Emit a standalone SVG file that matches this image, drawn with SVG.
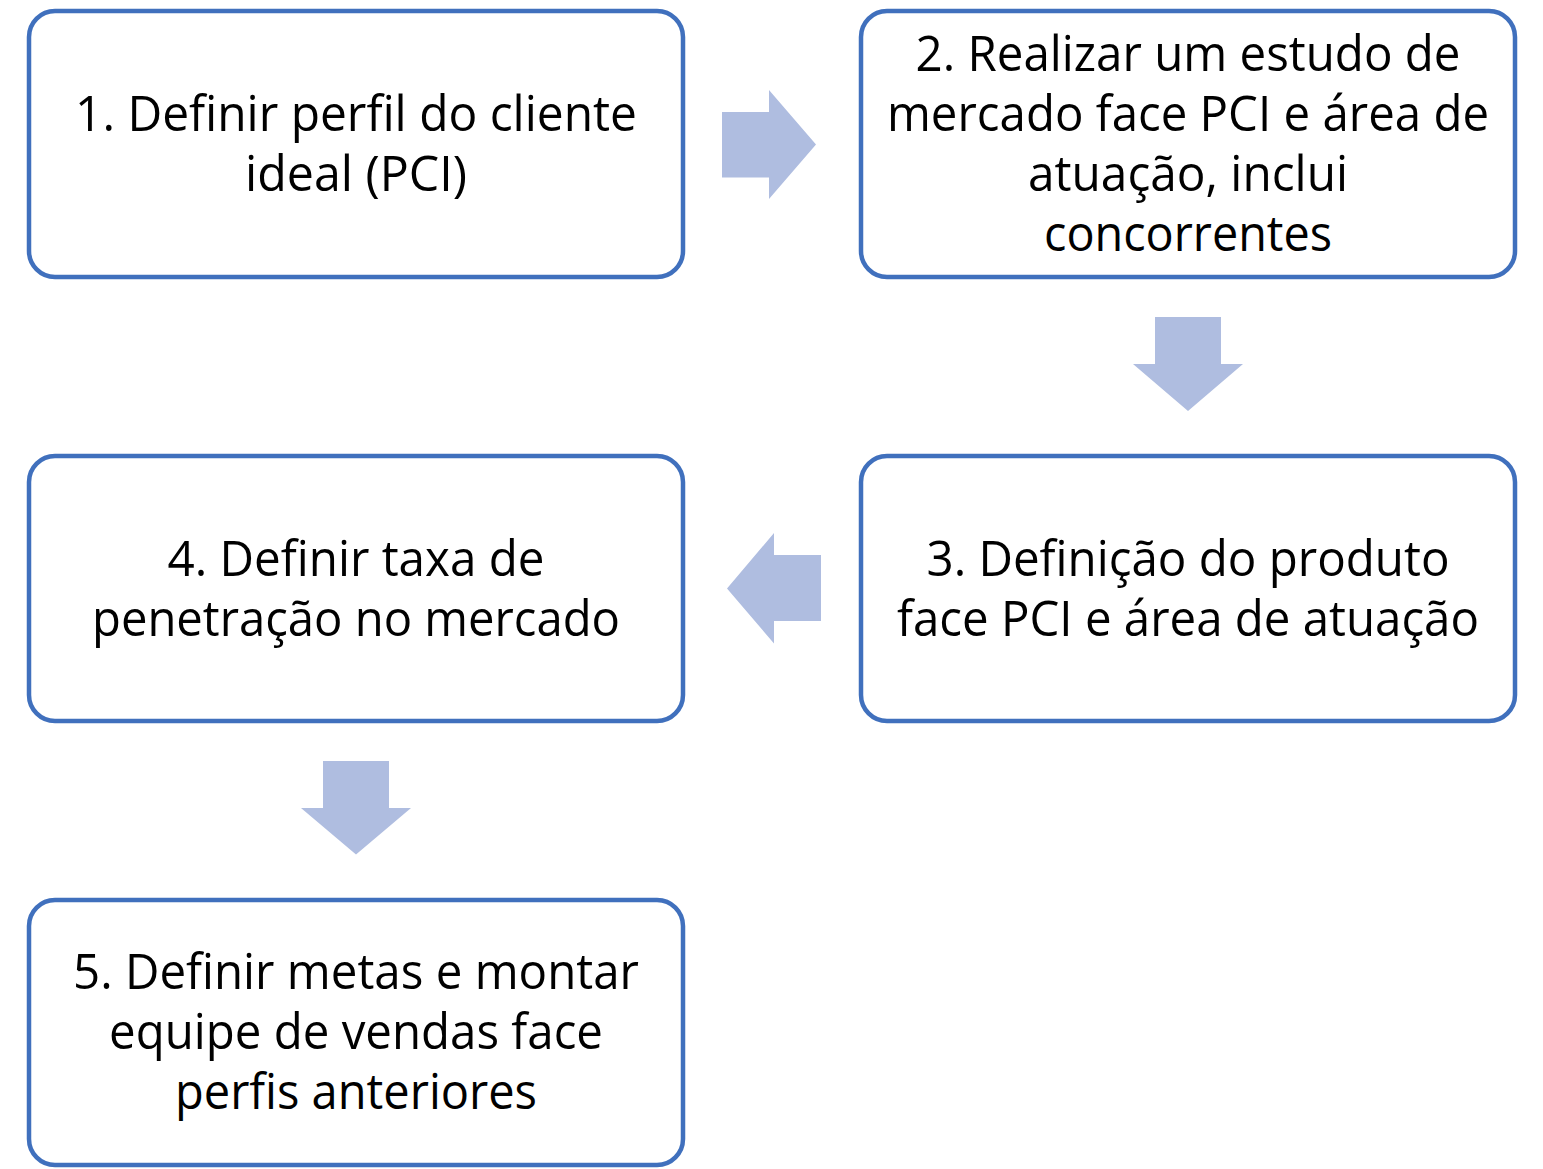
<svg xmlns="http://www.w3.org/2000/svg" width="1543" height="1169" viewBox="0 0 1543 1169">
<style>
.box{fill:#ffffff;stroke:#4070BD;stroke-width:4.5}
.arr{fill:#AFBDE0;stroke:none}
.t{font-family:"Open Sans","Noto Sans","Liberation Sans",sans-serif;font-size:49px;fill:#000000;text-anchor:middle}
</style>
<rect width="1543" height="1169" fill="#ffffff"/>
<g id="connectors">
<polygon class="arr" points="722,112 769,112 769,90 816,144.5 769,199 769,177.5 722,177.5"/>
<polygon class="arr" points="1155,317 1221,317 1221,364 1243,364 1188,411 1133,364 1155,364"/>
<polygon class="arr" points="821,555 774,555 774,533 727,588.5 774,643.5 774,621 821,621"/>
<polygon class="arr" points="323,761 389,761 389,808 411,808 356,854.5 301,808 323,808"/>
</g>
<g id="node1">
<rect class="box" x="29" y="11" width="654" height="266" rx="26"/>
<text class="t" x="356" y="131" textLength="562" lengthAdjust="spacingAndGlyphs">1. Definir perfil do cliente</text>
<text class="t" x="356" y="191" textLength="222" lengthAdjust="spacingAndGlyphs">ideal (PCI)</text>
</g>
<g id="node2">
<rect class="box" x="861" y="11" width="654" height="266" rx="26"/>
<text class="t" x="1188" y="71" textLength="545" lengthAdjust="spacingAndGlyphs">2. Realizar um estudo de</text>
<text class="t" x="1188" y="131" textLength="602" lengthAdjust="spacingAndGlyphs">mercado face PCI e área de</text>
<text class="t" x="1188" y="191" textLength="320" lengthAdjust="spacingAndGlyphs">atuação, inclui</text>
<text class="t" x="1188" y="251" textLength="288" lengthAdjust="spacingAndGlyphs">concorrentes</text>
</g>
<g id="node3">
<rect class="box" x="861" y="456" width="654" height="265" rx="26"/>
<text class="t" x="1188" y="576" textLength="523" lengthAdjust="spacingAndGlyphs">3. Definição do produto</text>
<text class="t" x="1188" y="636" textLength="582" lengthAdjust="spacingAndGlyphs">face PCI e área de atuação</text>
</g>
<g id="node4">
<rect class="box" x="29" y="456" width="654" height="265" rx="26"/>
<text class="t" x="356" y="576" textLength="377" lengthAdjust="spacingAndGlyphs">4. Definir taxa de</text>
<text class="t" x="356" y="636" textLength="528" lengthAdjust="spacingAndGlyphs">penetração no mercado</text>
</g>
<g id="node5">
<rect class="box" x="29" y="900" width="654" height="265" rx="26"/>
<text class="t" x="356" y="989" textLength="566" lengthAdjust="spacingAndGlyphs">5. Definir metas e montar</text>
<text class="t" x="356" y="1049" textLength="494" lengthAdjust="spacingAndGlyphs">equipe de vendas face</text>
<text class="t" x="356" y="1109" textLength="362" lengthAdjust="spacingAndGlyphs">perfis anteriores</text>
</g>
</svg>
